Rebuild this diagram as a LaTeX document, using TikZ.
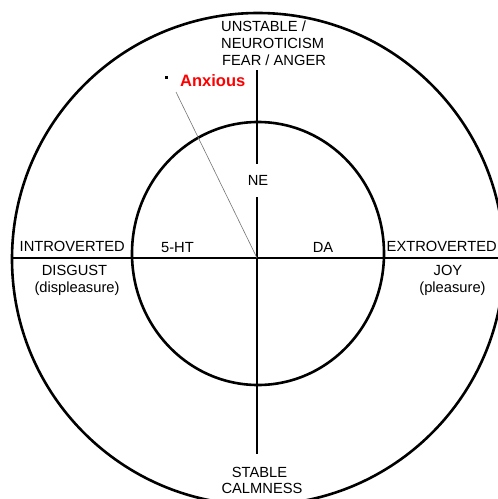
\documentclass[tikz,border=0pt]{standalone}
\usepackage{fontspec}
\setmainfont{Liberation Sans}
\begin{document}
\begin{tikzpicture}[x=1pt,y=-1pt,
  ring/.style={line width=2.6pt,black},
  axis/.style={line width=2.6pt,black},
  lbl/.style={inner sep=0pt,font=\fontsize{14.7}{17}\selectfont,text=black},
  anx/.style={inner sep=0pt,font=\fontsize{16.5}{19}\selectfont\bfseries,text=red},
  guide/.style={line width=0.6pt,black!55}]
\useasboundingbox (0,0) rectangle (498,499);
\clip (0,0) rectangle (498,499);
% circles
\draw[ring] (258,259) circle [radius=246pt];
\draw[ring] (258,253.5) ellipse [x radius=126pt, y radius=131.5pt];
% axes
\coordinate (hl) at (12,258);
\coordinate (hr) at (500,258);
\coordinate (vt) at (257,70);
\coordinate (vg1) at (257,164);
\coordinate (vg2) at (257,197);
\coordinate (vb) at (257,454);
\coordinate (ctr) at (257,258);
\draw[axis] (hl) -- (hr);
\draw[axis] (vt) -- (vg1);
\draw[axis] (vg2) -- (vb);
% anxious marker
\coordinate (gs) at (176,92);
\draw[guide] (gs) -- (ctr);
\fill (164.5,75.5) rectangle (167.5,78.5);
\node[anx,anchor=base west] (anxious) at (180,86.5) {Anxious};
% labels
\node[lbl,anchor=base west] (u1) at (221,31) {UNSTABLE /};
\node[lbl,anchor=base west] (u2) at (221,48.3) {NEUROTICISM};
\node[lbl,anchor=base west] (u3) at (222,65.5) {FEAR / ANGER};
\node[lbl,anchor=base] (ne) at (258,185) {NE};
\node[lbl,anchor=base] (ht) at (177.5,252) {5-HT};
\node[lbl,anchor=base] (da) at (323,252) {DA};
\node[lbl,anchor=base west] (intro) at (19.5,251) {INTROVERTED};
\node[lbl,anchor=base] (disg) at (74.5,275) {DISGUST};
\node[lbl,anchor=base] (displ) at (77,292.5) {(displeasure)};
\node[lbl,anchor=base west] (extro) at (386.5,251) {EXTROVERTED};
\node[lbl,anchor=base] (joy) at (448,275) {JOY};
\node[lbl,anchor=base] (pleas) at (452.5,292.5) {(pleasure)};
\node[lbl,anchor=base] (stab) at (259.5,477) {STABLE};
\node[lbl,anchor=base] (calm) at (262,493) {CALMNESS};
\end{tikzpicture}
\end{document}
